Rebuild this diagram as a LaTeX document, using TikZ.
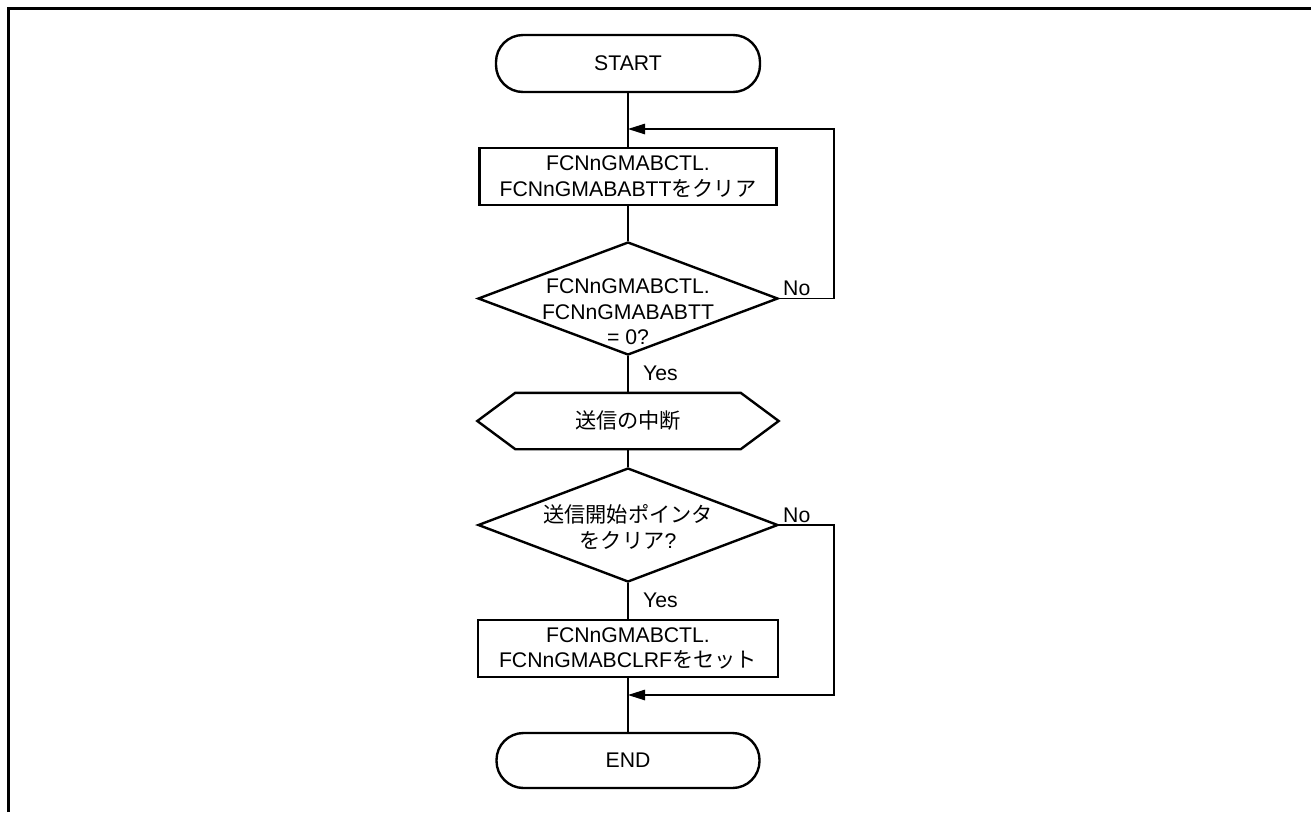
\documentclass[tikz,border=0pt]{standalone}
\usepackage{fontspec}
\setmainfont{Liberation Sans}
\newfontfamily\jp{Noto Sans CJK JP}
\usetikzlibrary{shapes.geometric,arrows.meta,calc}
\begin{document}
\begin{tikzpicture}[x=1pt,y=-1pt,
  every node/.style={font=\fontsize{21.2}{25.5}\selectfont, inner sep=0pt, align=center},
  term/.style={draw, line width=2.4pt, rounded corners=27pt, minimum width=264pt, minimum height=57pt},
  proc/.style={draw, line width=2.4pt, minimum width=300pt, minimum height=57pt},
  dec/.style={draw, diamond, line width=2.4pt, minimum width=300pt, minimum height=114pt},
  hexbox/.style={minimum width=301pt, minimum height=56pt},
  conn/.style={line width=1.2pt},
  arr/.style={line width=1.2pt, -{Triangle[length=17pt,width=10.5pt]}},
  lab/.style={anchor=west}
]
\useasboundingbox (0,0) rectangle (1311,812);
\draw[line width=3pt] (8.5,812) -- (8.5,8.5) -- (1311,8.5);

\node[term] (start) at (628,63.5) {START};
\node[proc, minimum width=297pt] (b1) at (628,176.5) {FCNnGMABCTL.\\FCNnGMABABTT{\jp をクリア}};
\node[dec, minimum height=113pt] (d1) at (628,298.5) {};
\node (d1t) at (628,312) {FCNnGMABCTL.\\FCNnGMABABTT\\= 0?};
\node[hexbox] (hex) at (628,421) {\jp 送信の中断};
\draw[line width=2.4pt] (hex.west) -- ($(hex.north west)+(38,0)$) -- ($(hex.north east)+(-38,0)$) -- (hex.east) -- ($(hex.south east)+(-38,0)$) -- ($(hex.south west)+(38,0)$) -- cycle;
\node[dec] (d2) at (628,525) {};
\node (d2t) at (628,527) {{\jp 送信開始ポインタ}\\{\jp をクリア}?};
\node[proc] (b2) at (628,648.5) {FCNnGMABCTL.\\FCNnGMABCLRF{\jp をセット}};
\node[term, minimum width=263pt, minimum height=55pt] (end) at (628,760.5) {END};

\coordinate (j1) at (628,129);
\coordinate (r1) at (834,129);
\coordinate (j2) at (628,695);
\coordinate (r2) at (834,695);

\draw[conn] (start) -- (b1);
\draw[conn] (b1) -- (d1);
\draw[conn] (d1) -- (hex);
\draw[conn] (hex) -- (d2);
\draw[conn] (d2) -- (b2);
\draw[conn] (b2) -- (end);
\draw[arr] (d1.east) -| (r1) -- (j1);
\draw[arr] (d2.east) -| (r2) -- (j2);

\node[lab] (no1) at (783,288) {No};
\node[lab] (no2) at (783,515) {No};
\node[lab] (yes1) at (643,373) {Yes};
\node[lab] (yes2) at (643,600) {Yes};
\end{tikzpicture}
\end{document}
